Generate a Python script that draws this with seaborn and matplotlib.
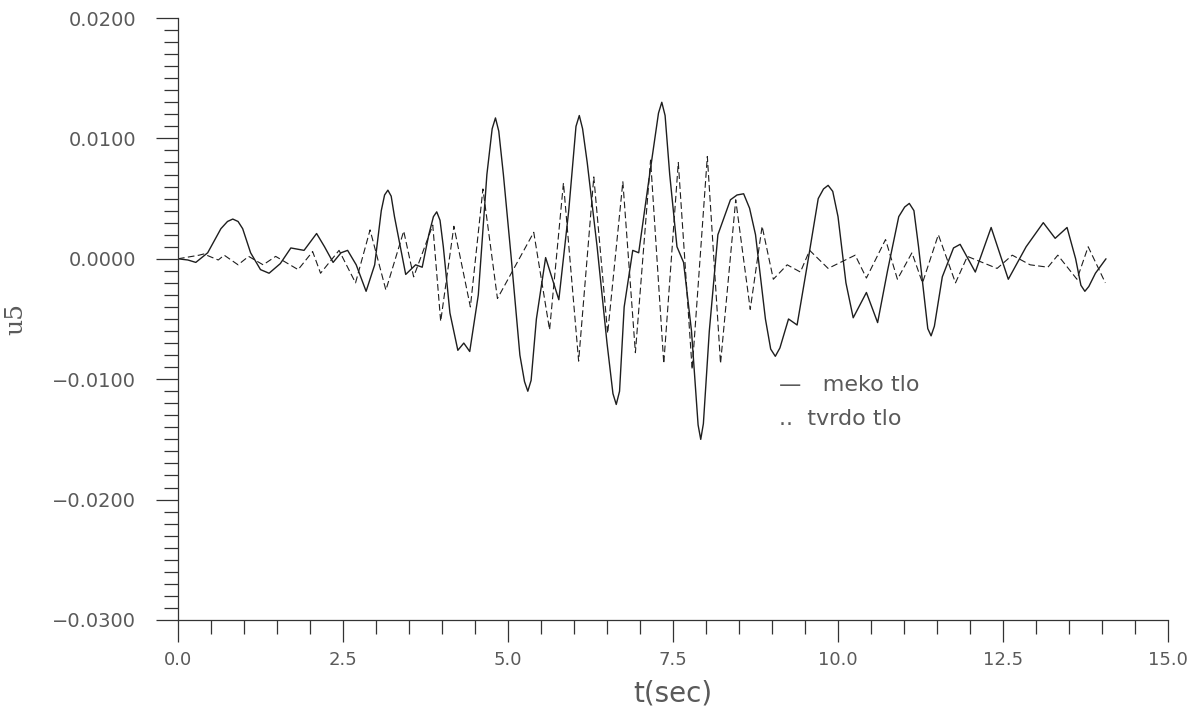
"""
u5 response - soft vs hard soil (meko / tvrdo tlo)
"""
import numpy as np
import pandas as pd
import matplotlib
matplotlib.use('Agg')
import matplotlib.pyplot as plt
from matplotlib.ticker import MultipleLocator, FormatStrFormatter, FuncFormatter
import seaborn as sns

# meko tlo (solid)
meko_t = [0.00, 0.15, 0.27, 0.45, 0.65, 0.75, 0.83, 0.91, 0.98,
          1.10, 1.25, 1.38, 1.55, 1.71, 1.91, 2.10, 2.22, 2.35, 2.47, 2.57, 2.70, 2.85, 2.98,
          3.08, 3.13, 3.18, 3.23, 3.28, 3.45, 3.60, 3.70, 3.80, 3.87, 3.92, 3.97,
          4.02, 4.12, 4.24, 4.33, 4.42, 4.55, 4.68, 4.76, 4.81, 4.86, 4.93,
          5.05, 5.18, 5.25, 5.30, 5.35, 5.43, 5.57, 5.77, 5.92,
          6.03, 6.08, 6.13, 6.20, 6.35, 6.50, 6.59, 6.64, 6.69, 6.76, 6.89, 6.98,
          7.12, 7.28, 7.33, 7.38, 7.45, 7.56, 7.66, 7.78, 7.88, 7.92, 7.96,
          8.05, 8.18, 8.37, 8.47, 8.57, 8.66, 8.75, 8.90, 8.98,
          9.05, 9.12, 9.25, 9.38, 9.55, 9.70, 9.78, 9.85, 9.92,
          10.00, 10.12, 10.23, 10.43, 10.60, 10.75, 10.92,
          11.01, 11.08, 11.15, 11.22, 11.36, 11.41, 11.46, 11.58, 11.75, 11.85,
          12.08, 12.32, 12.58, 12.85,
          13.11, 13.29, 13.47, 13.60, 13.68, 13.74, 13.80, 13.90,
          14.06]
meko_u = [0.0000, -0.0001, -0.0003, 0.0005, 0.0025, 0.0031, 0.0033, 0.0031, 0.0025,
          0.0005, -0.0009, -0.0012, -0.0004, 0.0009, 0.0007, 0.0021, 0.0010, -0.0003, 0.0005,
          0.0007, -0.0005, -0.0027, -0.0005,
          0.0040, 0.0053, 0.0057, 0.0052, 0.0035, -0.0013, -0.0005, -0.0007, 0.0020, 0.0035,
          0.0039, 0.0032,
          0.0010, -0.0045, -0.0076, -0.0070, -0.0077, -0.0030, 0.0070, 0.0108, 0.0117, 0.0106,
          0.0070,
          0.0000, -0.0080, -0.0102, -0.0110, -0.0101, -0.0050, 0.0001, -0.0034, 0.0040,
          0.0110, 0.0119, 0.0108, 0.0080, 0.0010, -0.0070, -0.0112, -0.0121, -0.0110, -0.0040,
          0.0007, 0.0005,
          0.0060, 0.0121, 0.0130, 0.0119, 0.0070, 0.0010, -0.0003, -0.0060, -0.0138, -0.0150,
          -0.0137,
          -0.0060, 0.0020, 0.0049, 0.0053, 0.0054, 0.0042, 0.0020, -0.0050, -0.0075,
          -0.0081, -0.0074, -0.0050, -0.0055, 0.0000, 0.0050, 0.0058, 0.0061, 0.0056,
          0.0035, -0.0020, -0.0049, -0.0028, -0.0053, -0.0010, 0.0035,
          0.0043, 0.0046, 0.0040, 0.0010, -0.0058, -0.0064, -0.0056, -0.0015, 0.0009, 0.0012,
          -0.0011, 0.0026, -0.0017, 0.0010,
          0.0030, 0.0017, 0.0026, 0.0000, -0.0022, -0.0027, -0.0023, -0.0012,
          0.0000]

# tvrdo tlo (dashed)
tvrdo_t = [0.00, 0.32, 0.39, 0.61, 0.70, 0.91, 1.07, 1.29, 1.48, 1.82, 2.04, 2.16,
           2.44, 2.69, 2.91, 3.15, 3.42, 3.57, 3.86, 3.98, 4.18, 4.43, 4.62, 4.84,
           5.39, 5.63, 5.84, 6.07, 6.30, 6.51, 6.74, 6.93, 7.16, 7.36, 7.58, 7.79,
           8.02, 8.22, 8.45, 8.67, 8.85, 9.02, 9.23, 9.43, 9.57, 9.85, 10.26, 10.43,
           10.72, 10.90, 11.12, 11.28, 11.52, 11.78, 11.96, 12.41, 12.64, 12.91,
           13.18, 13.33, 13.62, 13.79, 14.05]
tvrdo_u = [0.0000, 0.0003, 0.0004, -0.0001, 0.0003, -0.0005, 0.0002, -0.0005, 0.0002,
           -0.0009, 0.0006, -0.0012, 0.0007, -0.0020, 0.0024, -0.0026, 0.0023, -0.0015,
           0.0028, -0.0052, 0.0027, -0.0040, 0.0058, -0.0033, 0.0022, -0.0059, 0.0063,
           -0.0085, 0.0068, -0.0062, 0.0064, -0.0078, 0.0082, -0.0087, 0.0080, -0.0092,
           0.0085, -0.0087, 0.0049, -0.0042, 0.0027, -0.0017, -0.0005, -0.0011, 0.0007,
           -0.0008, 0.0003, -0.0016, 0.0016, -0.0017, 0.0005, -0.0020, 0.0020, -0.0020,
           0.0002, -0.0008, 0.0003, -0.0005, -0.0007, 0.0003, -0.0017, 0.0010, -0.0020]

x_ticks = [0.0, 2.5, 5.0, 7.5, 10.0, 12.5, 15.0]
y_ticks = [-0.03, -0.02, -0.01, 0.0, 0.01, 0.02]

sns.set_style('ticks')
plt.rcParams['font.family'] = ['DejaVu Sans']

text_col = '#5a5a5a'
line_col = '#1e1e1e'

fig = plt.figure(figsize=(11.97, 7.23), dpi=100)
ax = fig.add_axes([0.1487, 0.1425, 0.8271, 0.8326])

meko = pd.DataFrame({'t': meko_t, 'u': meko_u})
tvrdo = pd.DataFrame({'t': tvrdo_t, 'u': tvrdo_u})

sns.lineplot(data=meko, x='t', y='u', ax=ax, color=line_col, linewidth=1.0,
             estimator=None, sort=False, solid_joinstyle='round')
sns.lineplot(data=tvrdo, x='t', y='u', ax=ax, color=line_col, linewidth=0.8,
             estimator=None, sort=False, linestyle=(0, (6, 3)))

ax.set_xlim(0, 15)
ax.set_ylim(-0.03, 0.02)
ax.set_xticks(x_ticks)
ax.set_yticks(y_ticks)
ax.xaxis.set_minor_locator(MultipleLocator(0.5))
ax.yaxis.set_minor_locator(MultipleLocator(0.001))
ax.xaxis.set_major_formatter(FormatStrFormatter('%.1f'))
ax.yaxis.set_major_formatter(FuncFormatter(lambda v, p: f'{v:.4f}'.replace('-', '\u2212')))

ax.tick_params(axis='both', which='major', length=16, width=0.9, color='#333333',
               labelsize=13, labelcolor=text_col, direction='out')
ax.tick_params(axis='y', which='major', labelsize=14, pad=14)
ax.tick_params(axis='both', which='minor', length=10, width=0.9, color='#333333',
               direction='out')
ax.tick_params(axis='x', which='major', pad=6)

for side in ['top', 'right']:
    ax.spines[side].set_visible(False)
for side in ['left', 'bottom']:
    ax.spines[side].set_color('#333333')
    ax.spines[side].set_linewidth(0.9)

ax.set_xlabel('t(sec)', fontsize=20, color=text_col, labelpad=8)
ax.set_ylabel('u5', fontsize=18, color=text_col, family='DejaVu Serif')
ax.yaxis.set_label_coords(-0.152, 0.5)
ax.grid(False)

# legend written as plain text like the original plotter output
ax.text(9.1, -0.0105, '—   meko tlo', fontsize=16, color=text_col, va='center')
ax.text(9.1, -0.0133, '..  tvrdo tlo', fontsize=16, color=text_col, va='center')

fig.savefig('out.png', dpi=100, facecolor='white')
